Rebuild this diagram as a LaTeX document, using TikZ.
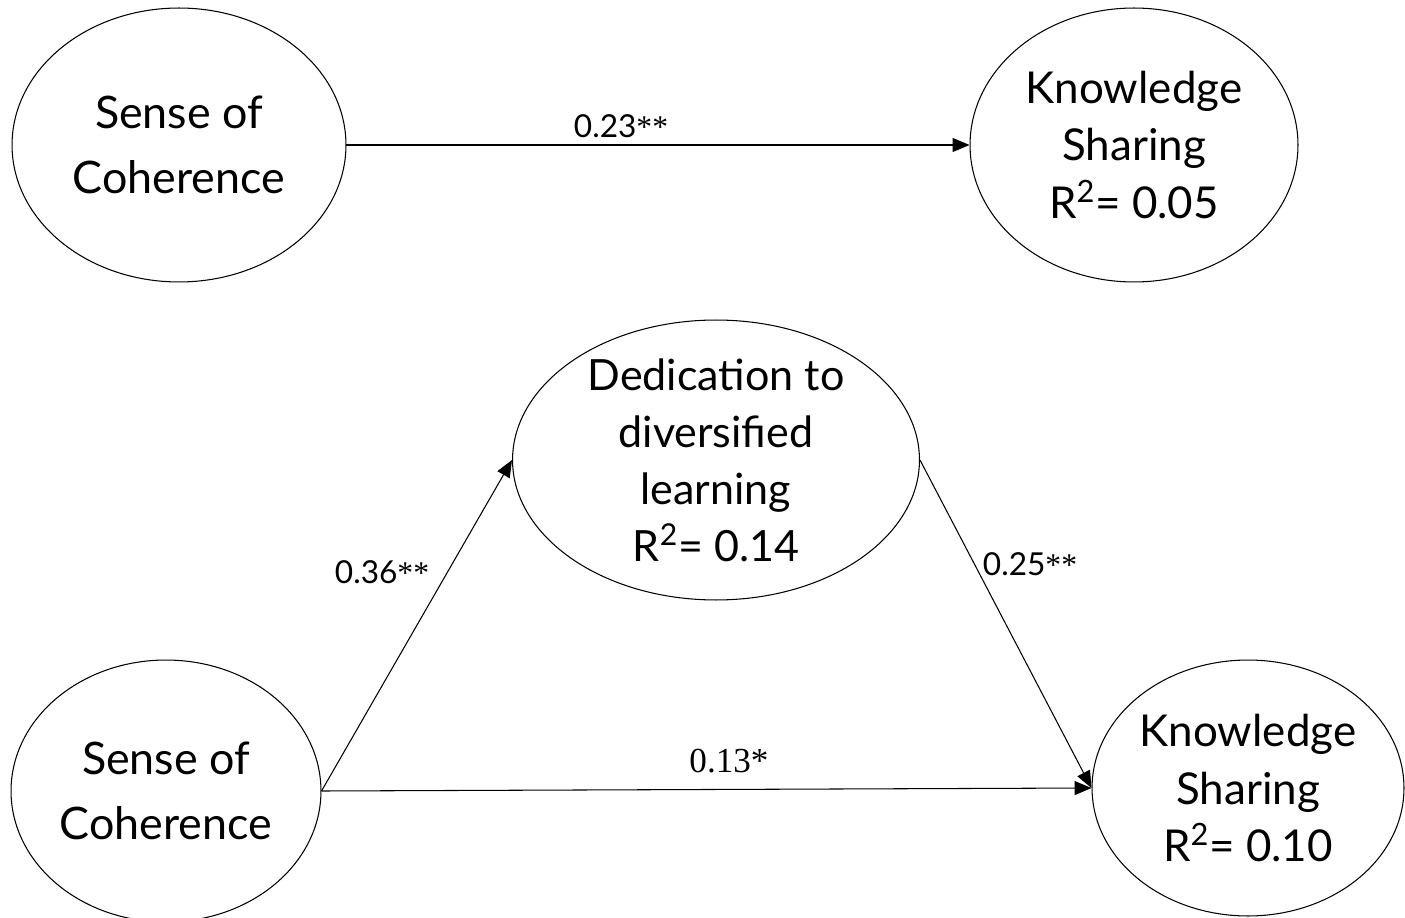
\documentclass[tikz,border=0pt]{standalone}
\usepackage{fontspec}
\setmainfont{Lato}
\newfontfamily\timesfont{Liberation Serif}
\usetikzlibrary{arrows.meta,shapes.geometric}
\begin{document}
\begin{tikzpicture}[x=0.02cm,y=-0.02cm,
        main/.style={draw,ellipse,inner sep=-1cm,line width=0.6pt,align=center,font=\fontsize{25}{32.5}\selectfont},
        soc/.style={main,font=\fontsize{25.5}{37}\selectfont},
        coef/.style={inner sep=0pt,font=\fontsize{18}{18}\selectfont},
        link/.style={-{Triangle[length=0.34cm,width=0.28cm]},line width=0.6pt}]
                \useasboundingbox (0,0) rectangle (1405,918);
                \node[soc,minimum width=6.68cm,minimum height=5.48cm](0) at (179,145){Sense of\\Coherence};
                \node[main,minimum width=6.56cm,minimum height=5.48cm](1) at (1134,145){Knowledge\\Sharing\\R\textsuperscript{2}= 0.05};
                \node[main,font=\fontsize{24.5}{32.5}\selectfont,minimum width=8.14cm,minimum height=5.6cm](2) at (716,460){Dedication to\\diversified\\learning\\R\textsuperscript{2}= 0.14};
                \node[soc,minimum width=6.2cm,minimum height=5.24cm](3) at (166,791){Sense of\\Coherence};
                \node[main,minimum width=6.24cm,minimum height=5.12cm](4) at (1248,788){Knowledge\\Sharing\\R\textsuperscript{2}= 0.10};
                \node[coef](5) at (621,126){0.23{\timesfont**}};
                \node[coef](6) at (382,572){0.36{\timesfont**}};
                \node[coef](7) at (1030,564){0.25{\timesfont**}};
                \node[coef,font=\timesfont\fontsize{20}{20}\selectfont](8) at (729,761){0.13*};
                \draw[link](0) -- (1);
                \draw[link](3.east) -- (2.west);
                \draw[link](2.east) -- (4.west);
                \draw[link](3.east) -- (4.west);
            \end{tikzpicture}
\end{document}
